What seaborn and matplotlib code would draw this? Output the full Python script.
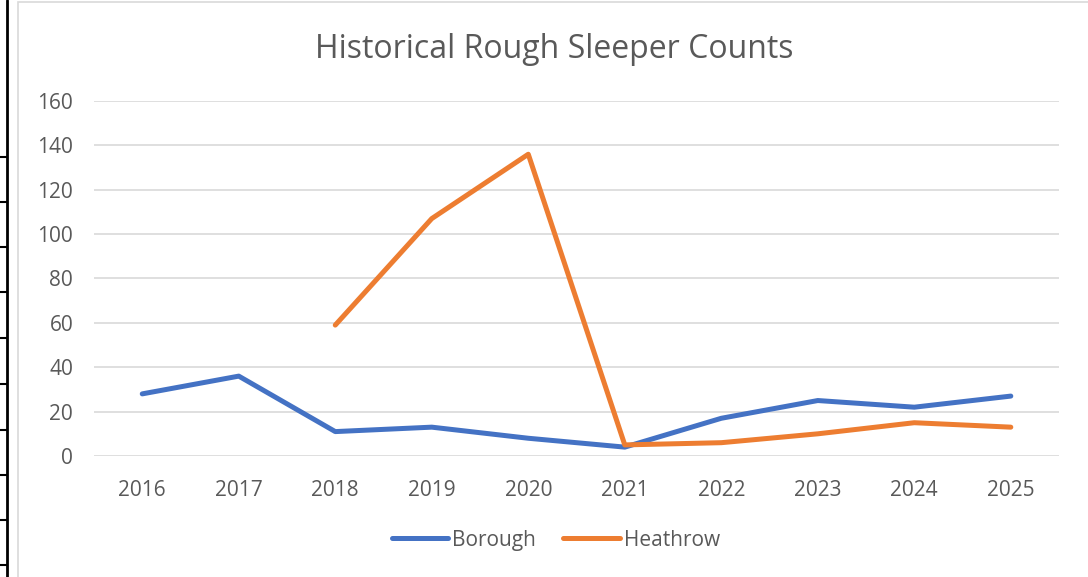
import numpy as np
import pandas as pd
import matplotlib
matplotlib.use("Agg")
import matplotlib.pyplot as plt
from matplotlib.lines import Line2D
from matplotlib.patches import Rectangle
import seaborn as sns

years = [2016, 2017, 2018, 2019, 2020, 2021, 2022, 2023, 2024, 2025]
borough = [28, 36, 11, 13, 8, 4, 17, 25, 22, 27]
heathrow = [np.nan, np.nan, 59, 107, 136, 5, 6, 10, 15, 13]
series_names = ['Borough', 'Heathrow']
colors = ['#4472C4', '#ED7D31']

df = pd.DataFrame({'year': years * 2,
                   'count': borough + heathrow,
                   'series': ['Borough'] * len(years) + ['Heathrow'] * len(years)})
df = df.dropna()

sns.set_style('white')
plt.rcParams['font.family'] = ['Open Sans', 'DejaVu Sans']

fig = plt.figure(figsize=(10.88, 5.77), dpi=100)
ax = fig.add_axes([0.0864, 0.2097, 0.887, 0.6153])

sns.lineplot(data=df, x='year', y='count', hue='series', hue_order=series_names,
             palette=colors, linewidth=3.6, ax=ax, legend=False,
             solid_capstyle='round', solid_joinstyle='round')

ax.set_xlim(years[0] - 0.5, years[-1] + 0.5)
ax.set_ylim(0, 160)
ax.set_yticks(range(0, 161, 20))
ax.set_xticks(years)
ax.set_xticklabels([str(y) for y in years])
ax.grid(axis='y', color='#D9D9D9', linewidth=1.2)
ax.set_axisbelow(True)
for s in ax.spines.values():
    s.set_visible(False)
ax.tick_params(axis='both', length=0, labelsize=15, colors='#595959')
ax.tick_params(axis='x', pad=17)
ax.tick_params(axis='y', pad=15)
ax.set_xlabel('')
ax.set_ylabel('')

fig.text(0.509, 0.915, 'Historical Rough Sleeper Counts', ha='center', va='center',
         fontsize=23, color='#595959')

handles = [Line2D([0], [0], color=c, linewidth=3.6, solid_capstyle='round') for c in colors]
fig.legend(handles, series_names, loc='center', bbox_to_anchor=(0.511, 0.064), ncol=2,
           frameon=False, fontsize=15, handlelength=2.7, handletextpad=0.2,
           columnspacing=1.3, labelcolor='#595959')

# chart frame and spreadsheet cell border on the left
fig.patches.append(Rectangle((18 / 1088, -0.01), 1.0, 1.0 - 2 / 577 + 0.01,
                             transform=fig.transFigure, fill=False,
                             edgecolor='#D9D9D9', linewidth=1.2))
fig.lines.append(Line2D([7 / 1088, 7 / 1088], [0, 1], transform=fig.transFigure,
                        color='black', linewidth=2))
for yp in [157, 202, 247, 292, 338, 384, 430, 475, 520, 565]:
    fig.lines.append(Line2D([0, 7 / 1088], [1 - yp / 577, 1 - yp / 577],
                            transform=fig.transFigure, color='black', linewidth=1.5))

fig.savefig('out.png', dpi=100)
